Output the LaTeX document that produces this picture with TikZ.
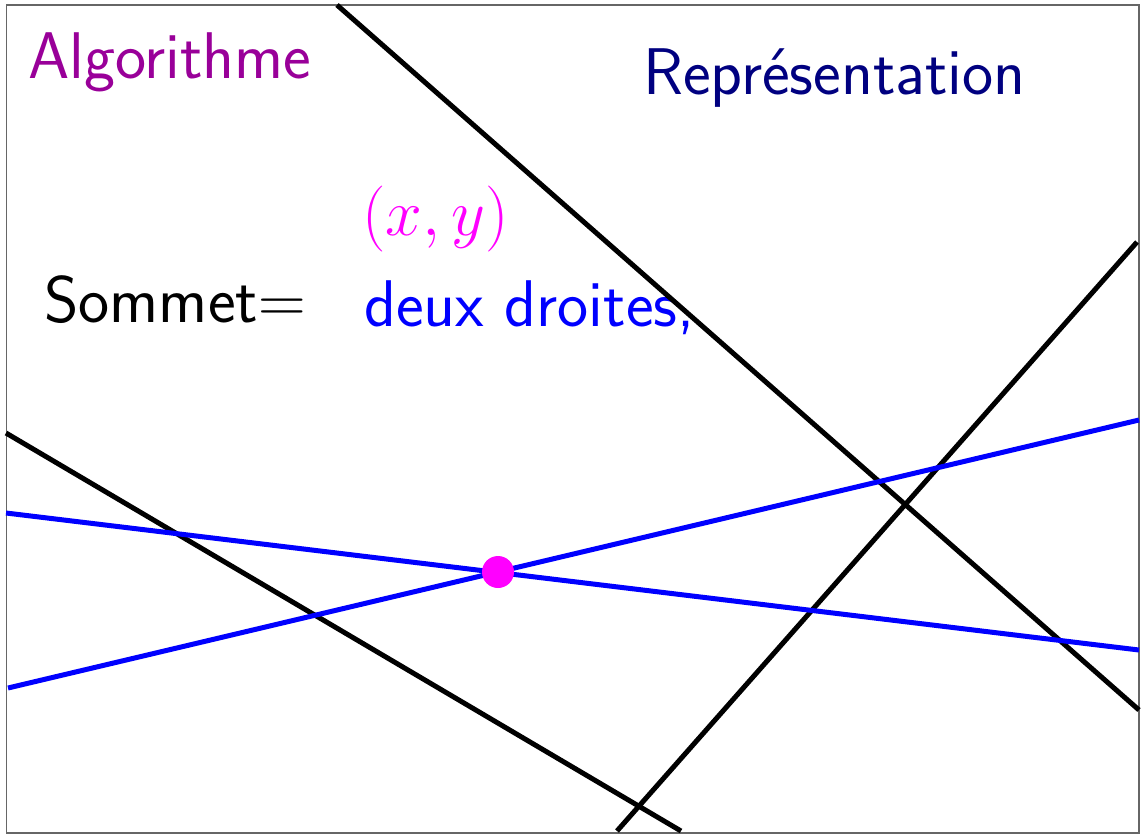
\RequirePackage{fix-cm}
\documentclass[tikz,border=0pt]{standalone}
\definecolor{algopurple}{RGB}{153,0,153}
\definecolor{repnavy}{RGB}{0,0,128}
\definecolor{dotmagenta}{RGB}{255,0,255}
\definecolor{pureblue}{RGB}{0,0,255}
\tikzset{
  big/.style={inner sep=0pt, anchor=base west, font=\fontsize{66}{79}\selectfont\sffamily},
  blackline/.style={line width=5pt, black},
  blueline/.style={line width=5pt, pureblue},
}
\begin{document}
\begin{tikzpicture}[x=1pt,y=-1pt]
\useasboundingbox (0,0) rectangle (1145,839);
\draw[gray!80!black, line width=1.2pt] (6.5,5) rectangle (1139,833);
% text
\node[big, text=algopurple] (algo) at (28,78) {Algorithme};
\node[big, text=repnavy] (rep) at (643,94) {Représentation};
\node[big, text=black] (som) at (44,322) {Sommet$=$};
\node[big, text=pureblue] (dd) at (364,326) {deux droites,};
\node[big, text=dotmagenta] (xy) at (362,235) {$(x,y)$};
% lines
\coordinate (a1) at (337,5);   \coordinate (a2) at (1139,710);
\coordinate (b1) at (6,433);   \coordinate (b2) at (681,831);
\coordinate (c1) at (617,831); \coordinate (c2) at (1137,242);
\coordinate (d1) at (6,513);   \coordinate (d2) at (1139,650);
\coordinate (e1) at (8,688);   \coordinate (e2) at (1139,420);
\draw[blackline] (a1) -- (a2);
\draw[blackline] (b1) -- (b2);
\draw[blackline] (c1) -- (c2);
\draw[blueline] (d1) -- (d2);
\draw[blueline] (e1) -- (e2);
\fill[dotmagenta] (498,572) circle (16);
\end{tikzpicture}
\end{document}
